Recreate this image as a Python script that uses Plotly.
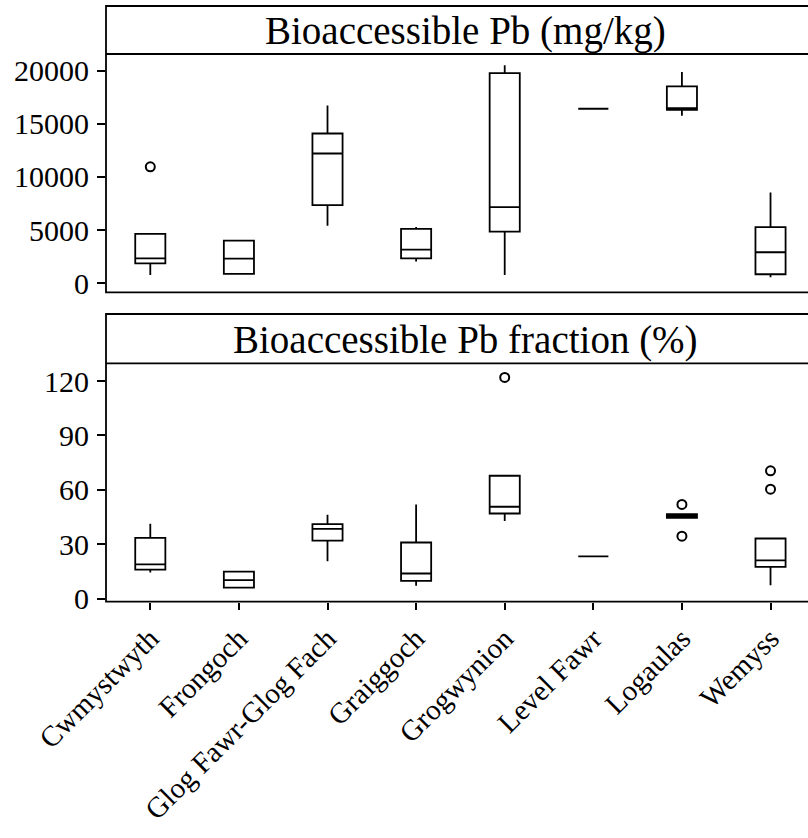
import plotly.graph_objects as go

sites = ["Cwmystwyth", "Frongoch", "Glog Fawr-Glog Fach", "Graiggoch",
         "Grogwynion", "Level Fawr", "Logaulas", "Wemyss"]

# Panel 1: Bioaccessible Pb (mg/kg)
pb_lo = [780, 880, 5400, 2040, 780, 16420, 15760, 570]
pb_q1 = [1880, 880, 7350, 2350, 4860, 16420, 16320, 850]
pb_med = [2350, 2320, 12210, 3170, 7160, 16420, 16480, 2920]
pb_q3 = [4640, 4010, 14090, 5110, 19780, 16420, 18520, 5280]
pb_hi = [4640, 4010, 16730, 5300, 20500, 16420, 19880, 8540]
pb_out_site = ["Cwmystwyth"]
pb_out_val = [10960]

# Panel 2: Bioaccessible Pb fraction (%)
fr_lo = [14.4, 6.1, 20.7, 7.1, 42.9, 23.4, 44.6, 7.4]
fr_q1 = [16.1, 6.1, 32.0, 9.8, 47.0, 23.4, 44.6, 17.6]
fr_med = [18.9, 10.3, 38.5, 13.9, 50.7, 23.4, 45.6, 21.2]
fr_q3 = [33.5, 15.0, 41.1, 31.0, 67.8, 23.4, 46.6, 33.2]
fr_hi = [41.3, 15.0, 46.3, 52.0, 67.8, 23.4, 46.6, 33.2]
fr_out_site = ["Grogwynion", "Logaulas", "Logaulas", "Wemyss", "Wemyss"]
fr_out_val = [122.0, 52.0, 34.5, 70.5, 60.4]

titles = ["Bioaccessible Pb (mg/kg)", "Bioaccessible Pb fraction (%)"]
pb_ticks = [0, 5000, 10000, 15000, 20000]
pb_ticktext = ["0", "5000", "10000", "15000", "20000"]
fr_ticks = [0, 30, 60, 90, 120]
fr_ticktext = ["0", "30", "60", "90", "120"]

FONT = "Liberation Serif"
W, H = 808, 838
mt, mb, ml = 6, 236, 106
ph = H - mt - mb


def fy(px):
    return (H - mb - px) / ph


fig = go.Figure()

box_style = dict(line=dict(color="black", width=1.8), fillcolor="rgba(0,0,0,0)",
                 boxpoints=False, whiskerwidth=0, width=0.34, showlegend=False,
                 hoverinfo="skip")
out_marker = dict(symbol="circle-open", size=9, color="black",
                  line=dict(width=2))

fig.add_trace(go.Box(x=sites, q1=pb_q1, median=pb_med, q3=pb_q3,
                     lowerfence=pb_lo, upperfence=pb_hi,
                     xaxis="x", yaxis="y", **box_style))
fig.add_trace(go.Scatter(x=pb_out_site, y=pb_out_val, mode="markers",
                         marker=out_marker, xaxis="x", yaxis="y",
                         showlegend=False))
fig.add_trace(go.Box(x=sites, q1=fr_q1, median=fr_med, q3=fr_q3,
                     lowerfence=fr_lo, upperfence=fr_hi,
                     xaxis="x2", yaxis="y2", **box_style))
fig.add_trace(go.Scatter(x=fr_out_site, y=fr_out_val, mode="markers",
                         marker=out_marker, xaxis="x2", yaxis="y2",
                         showlegend=False))

xr = [-0.5, 7.423]
tickfont = dict(family=FONT, size=30, color="black")
xtickfont = dict(family=FONT, size=29, color="black")

fig.update_layout(
    width=W, height=H,
    margin=dict(l=ml, r=0, t=mt, b=mb, autoexpand=False),
    paper_bgcolor="white", plot_bgcolor="white",
    xaxis=dict(domain=[0, 1], range=xr, anchor="y", showticklabels=False,
               ticks="", showline=False, showgrid=False, zeroline=False,
               automargin=False,
               categoryorder="array", categoryarray=sites),
    yaxis=dict(domain=[fy(292.3), fy(54)], range=[-850, 21570], anchor="x",
               tickvals=pb_ticks, ticktext=pb_ticktext, ticks="outside",
               ticklen=8, tickwidth=1.6, tickcolor="black", showline=False,
               showgrid=False, zeroline=False, tickfont=tickfont,
               ticklabelstandoff=2, automargin=False),
    xaxis2=dict(domain=[0, 1], range=xr, anchor="y2", ticks="outside",
                ticklen=7, tickwidth=1.6, tickcolor="black", tickangle=-45,
                showline=False, showgrid=False, zeroline=False,
                automargin=False,
                tickfont=xtickfont, categoryorder="array", categoryarray=sites),
    yaxis2=dict(domain=[0, fy(363.3)], range=[-1.8, 129.8], anchor="x2",
                tickvals=fr_ticks, ticktext=fr_ticktext, ticks="outside",
                ticklen=8, tickwidth=1.6, tickcolor="black", showline=False,
                showgrid=False, zeroline=False, tickfont=tickfont,
                ticklabelstandoff=2, automargin=False),
)

# Panel frames and strips (right edge runs past the visible page)
for top, strip_bot, bot, title in [(6, 54, 292.3, titles[0]),
                                   (314, 363.3, 601.7, titles[1])]:
    fig.add_shape(type="rect", xref="paper", yref="paper",
                  x0=0, x1=1.02, y0=fy(bot), y1=fy(top),
                  line=dict(color="black", width=1.8))
    fig.add_shape(type="line", xref="paper", yref="paper",
                  x0=0, x1=1.02, y0=fy(strip_bot), y1=fy(strip_bot),
                  line=dict(color="black", width=1.8))
    fig.add_annotation(text=title, xref="paper", yref="paper",
                       x=(465 - ml) / (W - ml), y=fy((top + strip_bot) / 2 + 1),
                       xanchor="center", yanchor="middle", showarrow=False,
                       font=dict(family=FONT, size=39, color="black"))

fig.write_html("out.html")
